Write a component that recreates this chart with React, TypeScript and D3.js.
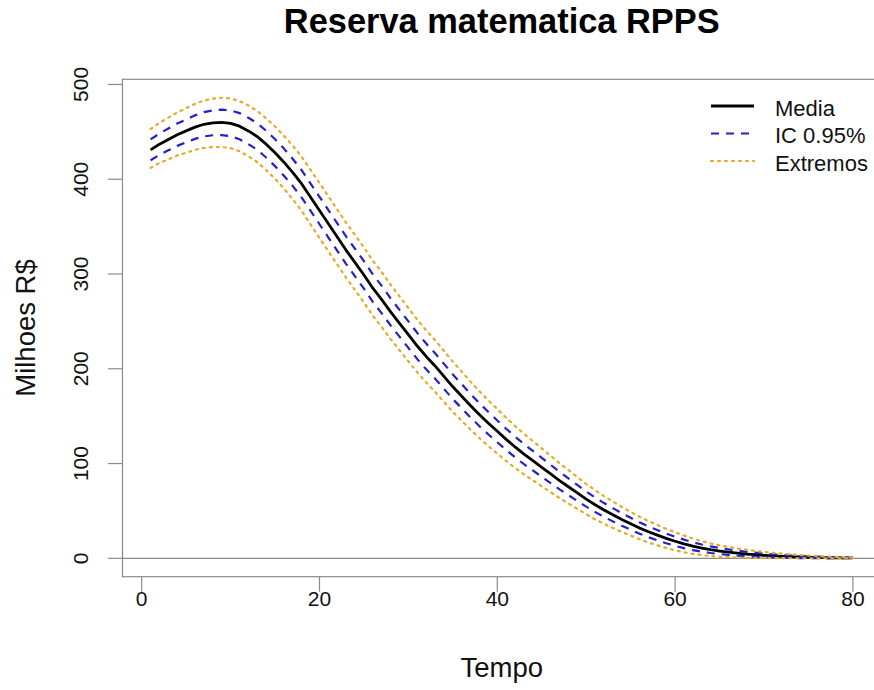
import React from "react";
import * as d3 from "d3";

// ---- Data -------------------------------------------------------------
const TITLE = "Reserva matematica RPPS";
const X_LABEL = "Tempo";
const Y_LABEL = "Milhoes R$";
const X_TICKS = [0, 20, 40, 60, 80];
const Y_TICKS = [0, 100, 200, 300, 400, 500];
const LEGEND_LABELS = ["Media", "IC 0.95%", "Extremos"];

const tempo = d3.range(1, 81);

const media = [
  431, 437, 442, 447, 451, 455, 458, 459.5, 460, 459,
  456, 451, 445, 437, 428, 418, 407, 395, 381, 367,
  353, 339, 325, 312, 299, 285, 273, 260, 248, 236,
  224, 213, 203, 192, 181, 171, 161, 151.5, 142.5, 134,
  125.5, 117.5, 110, 103, 96, 89, 82, 75.5, 69, 62.5,
  56.5, 51, 46, 41, 36.5, 32, 28, 24.5, 21, 18,
  15.2, 12.8, 10.8, 9.1, 7.7, 6.5, 5.4, 4.5, 3.8, 3.1,
  2.6, 2.1, 1.7, 1.4, 1.1, 0.9, 0.7, 0.6, 0.5, 0.4,
];

const icSup = [
  442, 448.2, 453.5, 458.8, 463, 467.4, 470.8, 472.6, 473.5, 472.6,
  469.8, 464.9, 459, 451.1, 442.2, 432.3, 421.3, 409.4, 395.4, 381.5,
  367.5, 353.5, 339.5, 326.5, 313.5, 299.5, 287.5, 274.3, 262.1, 250,
  237.8, 226.6, 216.4, 205.2, 194, 183.7, 173.4, 163.6, 154.3, 145.5,
  136.7, 128.4, 120.6, 113.3, 106, 98.6, 91.2, 84.3, 77.4, 70.5,
  64.1, 58.3, 53, 47.6, 42.8, 38, 33.7, 29.9, 26.1, 22.8,
  19.7, 17, 14.6, 12.6, 10.9, 9.4, 8.1, 6.9, 6, 5,
  4.3, 3.6, 3, 2.5, 2.1, 1.7, 1.4, 1.1, 0.9, 0.7,
];

const icInf = [
  420, 425.8, 430.5, 435.2, 439, 442.6, 445.2, 446.4, 446.5, 445.4,
  442.2, 437.1, 431, 422.9, 413.8, 403.7, 392.7, 380.6, 366.6, 352.5,
  338.5, 324.5, 310.5, 297.5, 284.5, 270.5, 258.5, 245.7, 233.9, 222,
  210.2, 199.4, 189.6, 178.8, 168, 158.3, 148.6, 139.4, 130.7, 122.5,
  114.3, 106.6, 99.4, 92.7, 86, 79.4, 72.8, 66.7, 60.6, 54.5,
  48.9, 43.7, 39, 34.4, 30.2, 26, 22.3, 19.1, 15.9, 13.2,
  10.7, 8.6, 7, 5.6, 4.5, 3.6, 2.7, 2.1, 1.6, 1.2,
  0.9, 0.6, 0.4, 0.3, 0.1, 0.1, 0.05, 0.1, 0.1, 0.1,
];

const extSup = [
  453, 459.5, 465, 470.5, 475, 479.5, 483, 485, 486, 485.2,
  482.5, 477.8, 472, 464.3, 455.6, 445.9, 435.2, 423.5, 409.8, 396,
  382, 368, 354, 341, 328, 314, 302, 288.7, 276.4, 264.1,
  251.8, 240.5, 230.2, 218.9, 207.5, 196.9, 186.3, 176.2, 166.6, 157.5,
  148.3, 139.6, 131.4, 123.7, 116, 108.2, 100.4, 93.1, 85.8, 78.5,
  71.8, 65.6, 59.9, 54.2, 49, 43.9, 39.3, 35.2, 31.1, 27.5,
  24, 20.9, 18.2, 15.8, 13.7, 12, 10.4, 9.1, 7.9, 6.7,
  5.8, 5, 4.2, 3.6, 2.9, 2.4, 1.9, 1.6, 1.2, 0.9,
];

const extInf = [
  412, 417, 421, 425, 428, 431, 433, 434, 434, 432.8,
  429.5, 424.2, 418, 409.7, 400.4, 390.1, 378.8, 366.5, 352.2, 338,
  324, 310, 296, 283, 270, 256, 244, 231.3, 219.6, 207.9,
  196.2, 185.5, 175.8, 165.1, 154.5, 145.1, 135.7, 126.8, 118.4, 110.5,
  102.7, 95.4, 88.6, 82.3, 76, 69.8, 63.6, 57.9, 52.2, 46.5,
  41.2, 36.4, 32.1, 27.8, 24, 20.1, 16.7, 13.8, 10.9, 8.5,
  6.4, 4.7, 3.4, 2.4, 1.7, 1.2, 0.8, 0.5, 0.4, 0.3,
  0.2, 0.2, 0.1, 0.1, 0.1, 0.1, 0.1, 0.1, 0.1, 0.1,
];

// ---- Layout -----------------------------------------------------------
const W = 874;
const H = 690;
const PLOT = { left: 122.5, right: 881, top: 79.3, bottom: 576.7 };
const FONT = "'Liberation Sans', Arial, Helvetica, sans-serif";
const AXIS_COLOR = "#8a8a8a";

// R-style axis extent: data range widened by 4% on each side
function padded(lo: number, hi: number): [number, number] {
  const r = hi - lo;
  return [lo - 0.04 * r, hi + 0.04 * r];
}

const SERIES = [
  { key: "media", values: media, color: "#000000", width: 2.8, dash: null as string | null },
  { key: "icSup", values: icSup, color: "#2222c8", width: 2.2, dash: "8,7" },
  { key: "icInf", values: icInf, color: "#2222c8", width: 2.2, dash: "8,7" },
  { key: "extSup", values: extSup, color: "#e6aa2a", width: 2.2, dash: "2,5" },
  { key: "extInf", values: extInf, color: "#e6aa2a", width: 2.2, dash: "2,5" },
];

const LEGEND_STYLES = [
  { color: "#000000", width: 2.8, dash: null as string | null },
  { color: "#2222c8", width: 2.2, dash: "8,7" },
  { color: "#e6aa2a", width: 2.2, dash: "2,5" },
];

export default function App() {
  const allVals = [...media, ...icSup, ...icInf, ...extSup, ...extInf];
  const [xLo, xHi] = padded(d3.min(tempo)!, d3.max(tempo)!);
  const [yLo, yHi] = padded(d3.min(allVals)!, d3.max(allVals)!);

  const x = d3.scaleLinear().domain([xLo, xHi]).range([PLOT.left, PLOT.right]);
  const y = d3.scaleLinear().domain([yLo, yHi]).range([PLOT.bottom, PLOT.top]);

  const line = d3
    .line<number>()
    .x((_, i) => x(tempo[i]))
    .y((d) => y(d));

  const cx = (PLOT.left + PLOT.right) / 2;
  const cy = (PLOT.top + PLOT.bottom) / 2;

  return (
    <svg
      width={W}
      height={H}
      viewBox={`0 0 ${W} ${H}`}
      style={{ position: "absolute", left: 0, top: 0, background: "#ffffff", fontFamily: FONT }}
    >
      <rect x={0} y={0} width={W} height={H} fill="#ffffff" />

      <defs>
        <clipPath id="plot-clip">
          <rect x={PLOT.left} y={PLOT.top} width={PLOT.right - PLOT.left} height={PLOT.bottom - PLOT.top} />
        </clipPath>
      </defs>

      {/* title */}
      <text x={cx} y={33} textAnchor="middle" fontSize={34.4} fontWeight="bold" fill="#000">
        {TITLE}
      </text>

      {/* plot frame */}
      <rect
        x={PLOT.left}
        y={PLOT.top}
        width={PLOT.right - PLOT.left}
        height={PLOT.bottom - PLOT.top}
        fill="none"
        stroke={AXIS_COLOR}
        strokeWidth={1.2}
      />

      {/* horizontal reference at zero */}
      <line
        x1={PLOT.left}
        x2={PLOT.right}
        y1={y(0)}
        y2={y(0)}
        stroke={AXIS_COLOR}
        strokeWidth={1.2}
      />

      {/* x axis */}
      {X_TICKS.map((t) => (
        <g key={`xt-${t}`}>
          <line x1={x(t)} x2={x(t)} y1={PLOT.bottom} y2={PLOT.bottom + 15} stroke={AXIS_COLOR} strokeWidth={1.2} />
          <text x={x(t)} y={605.5} textAnchor="middle" fontSize={21} fill="#111">
            {t}
          </text>
        </g>
      ))}

      {/* y axis */}
      {Y_TICKS.map((t) => (
        <g key={`yt-${t}`}>
          <line x1={PLOT.left - 14.5} x2={PLOT.left} y1={y(t)} y2={y(t)} stroke={AXIS_COLOR} strokeWidth={1.2} />
          <text
            transform={`translate(88,${y(t)}) rotate(-90)`}
            textAnchor="middle"
            fontSize={21}
            fill="#111"
          >
            {t}
          </text>
        </g>
      ))}

      {/* axis titles */}
      <text x={cx} y={677} textAnchor="middle" fontSize={27.5} fill="#111">
        {X_LABEL}
      </text>
      <text transform={`translate(35,${cy}) rotate(-90)`} textAnchor="middle" fontSize={27.5} fill="#111">
        {Y_LABEL}
      </text>

      {/* series */}
      <g clipPath="url(#plot-clip)">
        {SERIES.map((s) => (
          <path
            key={s.key}
            d={line(s.values) ?? ""}
            fill="none"
            stroke={s.color}
            strokeWidth={s.width}
            strokeDasharray={s.dash ?? undefined}
            strokeLinejoin="round"
            strokeLinecap={s.dash === "2,5" ? "round" : "butt"}
          />
        ))}
      </g>

      {/* legend */}
      {LEGEND_LABELS.map((lab, i) => {
        const ly = 106 + i * 27.5;
        const st = LEGEND_STYLES[i];
        return (
          <g key={lab}>
            <line
              x1={711}
              x2={754}
              y1={ly}
              y2={ly}
              stroke={st.color}
              strokeWidth={st.width}
              strokeDasharray={st.dash ?? undefined}
              strokeLinecap={st.dash === "2,5" ? "round" : "butt"}
            />
            <text x={775} y={ly + 9.5} fontSize={22} fill="#111">
              {lab}
            </text>
          </g>
        );
      })}
    </svg>
  );
}
